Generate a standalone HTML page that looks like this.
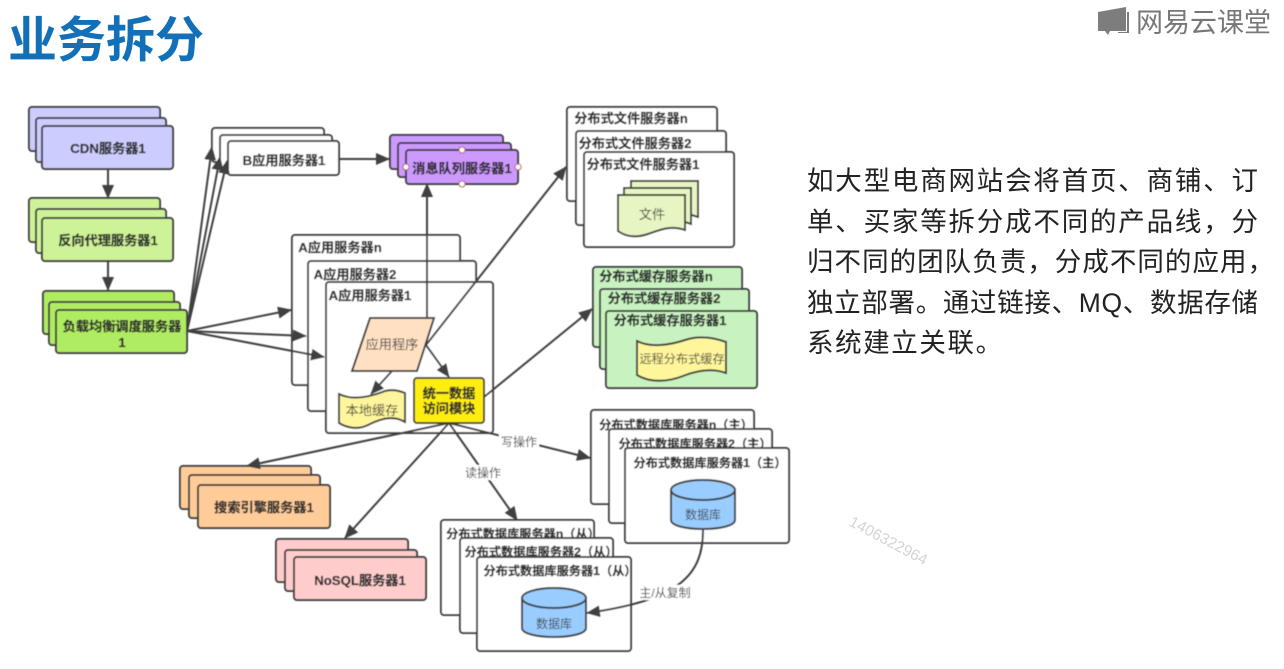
<!DOCTYPE html>
<html lang="zh"><head><meta charset="utf-8"><style>
html,body{margin:0;padding:0;background:#fff;width:1284px;height:669px;overflow:hidden}
svg{display:block}
text{font-family:"Liberation Sans","Noto Sans CJK SC",sans-serif}
.d rect.b,.d path.b,.d ellipse.b{stroke:#3f3f3f;stroke-width:2}
.d text{font-size:13.200px;font-weight:700;fill:#2f2f2f;stroke:#2f2f2f;stroke-width:.25;text-anchor:middle}
.d text.n{font-weight:400;fill:#444;stroke:none}
.d text.s{font-size:12.200px}
.l{stroke:#3f3f3f;stroke-width:2;fill:none;marker-end:url(#a)}
</style></head><body>
<svg width="1284" height="669" viewBox="0 0 1284 669" xmlns="http://www.w3.org/2000/svg">
<defs>
<marker id="a" markerUnits="userSpaceOnUse" markerWidth="16" markerHeight="14" refX="13" refY="6" orient="auto"><path d="M0 0L14 6L0 12Z" fill="#3f3f3f"/></marker>
<filter id="f" filterUnits="userSpaceOnUse" x="0" y="60" width="820" height="609"><feGaussianBlur stdDeviation="0.5"/></filter>
</defs>
<text x="8" y="57" font-size="49" font-weight="700" fill="#1270b8">业务拆分</text>
<g fill="#7d7d7d"><path d="M1098 12L1126 7V31H1110L1108 35L1105 31H1098Z"/><path d="M1128 12h-1v20h-9v1h11V12Z"/></g>
<text x="1136" y="32" font-size="27" fill="#777">网易云课堂</text>

<g class="d" filter="url(#f)">
<rect class="b" x="29" y="107" width="131" height="44" rx="3" fill="#ccccff"/>
<rect class="b" x="36" y="118" width="130" height="44" rx="3" fill="#ccccff"/>
<rect class="b" x="42" y="126" width="131" height="43" rx="3" fill="#ccccff"/>
<text x="108" y="153">CDN服务器1</text>
<rect class="b" x="29" y="198" width="131" height="44" rx="3" fill="#cdf297"/>
<rect class="b" x="36" y="209" width="130" height="44" rx="3" fill="#cdf297"/>
<rect class="b" x="42" y="218" width="131" height="43" rx="3" fill="#cdf297"/>
<text x="108" y="245">反向代理服务器1</text>
<rect class="b" x="43" y="291" width="131" height="43" rx="3" fill="#b0ec62"/>
<rect class="b" x="49" y="302" width="131" height="43" rx="3" fill="#b0ec62"/>
<rect class="b" x="56" y="310" width="131" height="43" rx="3" fill="#b0ec62"/>
<text x="122" y="331">负载均衡调度服务器</text><text x="122" y="347">1</text>

<rect class="b" x="212" y="128" width="112" height="34" rx="3" fill="#fff"/>
<rect class="b" x="220" y="135" width="112" height="34" rx="3" fill="#fff"/>
<rect class="b" x="228" y="141" width="111" height="34" rx="3" fill="#fff"/>
<text x="284" y="165">B应用服务器1</text>

<rect class="b" x="390" y="135" width="113" height="34" rx="3" fill="#cc99ff"/>
<rect class="b" x="398" y="143" width="113" height="34" rx="3" fill="#cc99ff"/>
<rect class="b" x="406" y="150" width="112" height="34" rx="3" fill="#cc99ff"/>
<text x="462" y="173">消息队列服务器1</text>
<g fill="#fff" stroke="#b45a5a" stroke-width="1"><circle cx="462" cy="150" r="3"/><circle cx="462" cy="184" r="3"/><circle cx="406" cy="167" r="3"/><circle cx="518" cy="167" r="3"/></g>

<rect class="b" x="292" y="235" width="168" height="150" rx="3" fill="#fff"/>
<text x="340" y="252">A应用服务器n</text>
<rect class="b" x="308" y="261" width="168" height="150" rx="3" fill="#fff"/>
<text x="355" y="279">A应用服务器2</text>
<rect class="b" x="326" y="282" width="167" height="151" rx="3" fill="#fff"/>
<text x="370" y="300">A应用服务器1</text>
<path class="l" d="M427 318V184"/>
<path class="b" d="M370 318H434L417 371H352Z" fill="#ffe0c2"/>
<text class="n" x="392" y="349">应用程序</text>
<path class="b" d="M339 394C355 402 375 395 385 391C392 389 400 391 405 393V422C392 414 378 420 368 425C358 430 347 428 339 423Z" fill="#fff69b"/>
<text class="n" x="372" y="415">本地缓存</text>
<rect class="b" x="414" y="378" width="70" height="45" rx="3" fill="#ffee11"/>
<text x="449" y="398">统一数据</text><text x="449" y="413">访问模块</text>

<rect class="b" x="567" y="107" width="150" height="94" rx="3" fill="#fff"/>
<text x="631" y="123">分布式文件服务器n</text>
<rect class="b" x="576" y="131" width="150" height="94" rx="3" fill="#fff"/>
<text x="635" y="148">分布式文件服务器2</text>
<rect class="b" x="584" y="152" width="150" height="95" rx="3" fill="#fff"/>
<text x="643" y="169">分布式文件服务器1</text>
<path class="b" d="M631 181H698V217L685 213V190H631Z" fill="#e6f5c2"/>
<path class="b" d="M624 188H691V224L685 222V195H624Z" fill="#e6f5c2"/>
<path class="b" d="M618 195H685V230C670 225 660 230 648 234C636 238 626 237 618 231Z" fill="#e6f5c2"/>
<text class="n" x="652" y="219">文件</text>

<rect class="b" x="593" y="267" width="149" height="80" rx="3" fill="#c8f3c0"/>
<text x="656" y="281">分布式缓存服务器n</text>
<rect class="b" x="600" y="289" width="149" height="80" rx="3" fill="#c8f3c0"/>
<text x="664" y="303">分布式缓存服务器2</text>
<rect class="b" x="606" y="311" width="151" height="77" rx="3" fill="#c8f3c0"/>
<text x="670" y="325">分布式缓存服务器1</text>
<path class="b" d="M637 341C650 348 670 345 685 340C700 335 715 338 726 342V373C712 368 698 370 683 376C668 382 650 383 637 375Z" fill="#fff69b"/>
<text class="n" x="682" y="363" style="font-size:12.200px">远程分布式缓存</text>

<rect class="b" x="591" y="410" width="163" height="94" rx="3" fill="#fff"/>
<text class="s" x="676" y="429">分布式数据库服务器n（主）</text>
<rect class="b" x="609" y="429" width="163" height="94" rx="3" fill="#fff"/>
<text class="s" x="695" y="448">分布式数据库服务器2（主）</text>
<rect class="b" x="625" y="448" width="164" height="95" rx="3" fill="#fff"/>
<text class="s" x="710" y="467">分布式数据库服务器1（主）</text>
<path class="b" d="M671 490V520C671 532 735 532 735 520V490Z" fill="#99ccff"/>
<ellipse class="b" cx="703" cy="490" rx="32" ry="10" fill="#99ccff"/>
<text class="n" x="703" y="519" style="font-size:12px">数据库</text>

<rect class="b" x="180" y="466" width="131" height="43" rx="3" fill="#ffcc99"/>
<rect class="b" x="189" y="475" width="131" height="43" rx="3" fill="#ffcc99"/>
<rect class="b" x="198" y="485" width="132" height="43" rx="3" fill="#ffcc99"/>
<text x="264" y="512">搜索引擎服务器1</text>
<rect class="b" x="276" y="539" width="132" height="43" rx="3" fill="#ffcccc"/>
<rect class="b" x="285" y="550" width="132" height="41" rx="3" fill="#ffcccc"/>
<rect class="b" x="294" y="557" width="132" height="43" rx="3" fill="#ffcccc"/>
<text x="360" y="585">NoSQL服务器1</text>

<rect class="b" x="441" y="520" width="153" height="95" rx="3" fill="#fff"/>
<text class="s" x="523" y="538">分布式数据库服务器n（从）</text>
<rect class="b" x="460" y="538" width="153" height="95" rx="3" fill="#fff"/>
<text class="s" x="541" y="556">分布式数据库服务器2（从）</text>
<rect class="b" x="477" y="557" width="154" height="94" rx="3" fill="#fff"/>
<text class="s" x="560" y="575">分布式数据库服务器1（从）</text>
<path class="b" d="M522 598V628C522 640 586 640 586 628V598Z" fill="#99ccff"/>
<ellipse class="b" cx="554" cy="598" rx="32" ry="10" fill="#99ccff"/>
<text class="n" x="554" y="628" style="font-size:12px">数据库</text>

<path class="l" d="M108 169V198"/>
<path class="l" d="M108 261V290"/>
<path class="l" d="M187 331L212 147"/>
<path class="l" d="M187 331L220 157"/>
<path class="l" d="M187 331L227 161"/>
<path class="l" d="M187 331L291 310"/>
<path class="l" d="M187 331L306 336"/>
<path class="l" d="M187 331L324 357"/>
<path class="l" d="M339 159H389"/>
<path class="l" d="M426 345L566 167"/>
<path class="l" d="M484 397L592 309"/>
<path class="l" d="M426 345L449 377"/>
<path class="l" d="M392 371L371 394"/>
<path class="l" d="M449 423L247 466"/>
<path class="l" d="M449 423L345 538"/>
<path class="l" d="M449 423L517 520"/>
<path class="l" d="M449 423L590 458"/>
<path class="l" d="M703 530C703 575 680 600 587 613"/>
<rect x="499" y="434" width="40" height="15" fill="#fff"/>
<text class="n" x="519" y="446" style="font-size:12px">写操作</text>
<rect x="465" y="465" width="38" height="15" fill="#fff"/>
<text class="n" x="483" y="477" style="font-size:12px">读操作</text>
<rect x="638" y="585" width="54" height="15" fill="#fff"/>
<text class="n" x="665" y="597" style="font-size:12px">主/从复制</text>
</g>

<g font-size="26.500" fill="#222">
<text x="807" y="190" textLength="451" lengthAdjust="spacing">如大型电商网站会将首页、商铺、订</text>
<text x="807" y="231" textLength="451" lengthAdjust="spacing">单、买家等拆分成不同的产品线，分</text>
<text x="807" y="271" textLength="467" lengthAdjust="spacing">归不同的团队负责，分成不同的应用，</text>
<text x="807" y="312" textLength="451" lengthAdjust="spacing">独立部署。通过链接、MQ、数据存储</text>
<text x="807" y="352" letter-spacing="1.600">系统建立关联。</text>
</g>
<text x="0" y="0" transform="translate(848 525) rotate(28)" font-size="15.500" fill="#d4d4d4">1406322964</text>
</svg>
</body></html>
